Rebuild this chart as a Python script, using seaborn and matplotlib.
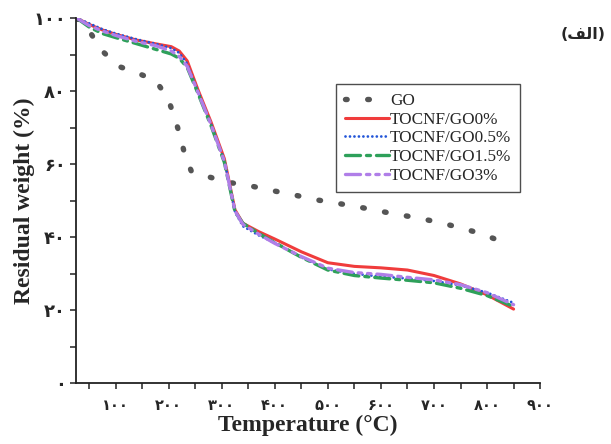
import matplotlib
matplotlib.use("Agg")
import matplotlib.pyplot as plt
import seaborn as sns
import numpy as np
import pandas as pd

# ---- data ----
go_temp = [27, 53, 75, 106, 144, 175, 198, 211, 222, 231, 243, 281, 318, 356, 394,
           433, 472, 513, 550, 589, 628, 665, 705, 744, 781, 819]
go_weight = [100, 95.9, 91.0, 86.8, 84.8, 83.0, 78.2, 73.0, 67.5, 62.3, 58.0, 56.3, 54.9,
             54.0, 52.8, 51.7, 50.4, 49.4, 48.5, 47.4, 46.3, 45.4, 44.2, 42.8, 41.3, 39.3]

temp = [27, 50, 75, 100, 140, 175, 205, 220, 235, 255, 280, 305, 325, 340, 370, 400,
        450, 500, 550, 600, 650, 700, 750, 800, 850]
go0 = [100, 98.3, 96.8, 95.6, 94.0, 93.0, 92.2, 91.0, 88.3, 80.5, 71.5, 61.5, 47.5, 43.8,
       41.5, 39.5, 36.0, 33.0, 32.0, 31.6, 31.0, 29.5, 27.2, 24.2, 20.3]
go05 = [100, 98.6, 97.0, 95.8, 94.2, 93.0, 91.8, 90.5, 87.5, 80.0, 71.0, 61.0, 47.0, 43.0,
        40.5, 38.5, 34.5, 31.2, 30.0, 29.2, 28.7, 28.0, 26.8, 24.8, 22.0]
go15 = [100, 97.6, 95.8, 94.7, 93.0, 91.5, 90.2, 89.0, 86.5, 79.5, 70.5, 60.5, 47.0, 43.8,
        41.0, 38.5, 34.5, 31.0, 29.5, 28.8, 28.2, 27.5, 26.0, 24.0, 21.0]
go3 = [100, 98.0, 96.5, 95.3, 93.6, 92.5, 91.0, 89.5, 86.8, 79.8, 70.8, 60.8, 47.2, 43.5,
       40.8, 38.3, 34.7, 31.5, 30.3, 29.8, 29.0, 28.3, 27.0, 24.8, 21.5]

labels = ["GO", "TOCNF/GO0%", "TOCNF/GO0.5%", "TOCNF/GO1.5%", "TOCNF/GO3%"]
fa_digits = "۰۱۲۳۴۵۶۷۸۹"
def fa(n):
    return "".join(fa_digits[int(c)] for c in str(n))
x_ticks = [100, 200, 300, 400, 500, 600, 700, 800, 900]
y_ticks = [0, 20, 40, 60, 80, 100]
x_tick_labels = [fa(v) for v in x_ticks]
y_tick_labels = [fa(v) for v in y_ticks]
panel_label = "(" + "\ufed2\ufedf\ufe8d" + ")"   # (الف) in visual (shaped) order

sns.set_style("ticks")
fig = plt.figure(figsize=(6.11, 4.44), dpi=100)
ax = fig.add_axes([0.124, 0.137, 0.760, 0.822])

styles = [
    (go_temp, go_weight, "#555555", (0, (0.3, 3.8)), 3.9),
    (temp, go0, "#f03c3c", "-", 2.2),
    (temp, go05, "#2255d8", (0, (0.01, 1.6)), 2.0),
    (temp, go15, "#2ea05a", (0, (4.5, 1.8, 1.2, 1.8)), 2.4),
    (temp, go3, "#b07ee8", (0, (4.5, 1.8, 1.0, 1.8, 1.0, 1.8)), 2.4),
]
for (xs, ys, col, ls, lw), lab in zip(styles, labels):
    df = pd.DataFrame({"T": xs, "W": ys})
    sns.lineplot(data=df, x="T", y="W", ax=ax, color=col, linestyle=ls, lw=lw,
                 label=lab, estimator=None, sort=False,
                 dash_capstyle="round", solid_capstyle="round")

ax.set_xlim(25, 900)
ax.set_ylim(0, 100)
ax.set_xticks(x_ticks)
ax.set_xticklabels(x_tick_labels, fontweight="bold", fontsize=10.5, family="DejaVu Sans")
ax.set_yticks(y_ticks)
ax.set_yticklabels(y_tick_labels, fontweight="bold", fontsize=13, family="DejaVu Sans")
ax.set_xticks(np.arange(50, 901, 100), minor=True)
ax.set_yticks(np.arange(10, 100, 20), minor=True)
ax.tick_params(which="both", direction="out", length=4, width=1.1, color="#222222", pad=3)
ax.tick_params(axis="x", pad=7)
for s in ["top", "right"]:
    ax.spines[s].set_visible(False)
for s in ["left", "bottom"]:
    ax.spines[s].set_linewidth(1.3)
    ax.spines[s].set_color("#222222")

ax.set_xlabel("Temperature (°C)", fontsize=17, fontweight="bold", family="Liberation Serif", labelpad=1)
ax.set_ylabel("Residual weight (%)", fontsize=17, fontweight="bold", family="Liberation Serif", labelpad=-1)

leg = ax.legend(loc="upper left", bbox_to_anchor=(0.561, 0.819), borderaxespad=0,
                frameon=True, fancybox=False, edgecolor="#222222",
                prop={"family": "Liberation Serif", "size": 12.3},
                handlelength=2.6, handletextpad=0.05, labelspacing=0.16,
                borderpad=0.5)
leg.get_frame().set_linewidth(1.0)

fig.text(0.954, 0.923, panel_label, ha="center", va="center", fontsize=11.5,
         fontweight="bold", family="DejaVu Sans")

fig.savefig("out.png", dpi=100)
